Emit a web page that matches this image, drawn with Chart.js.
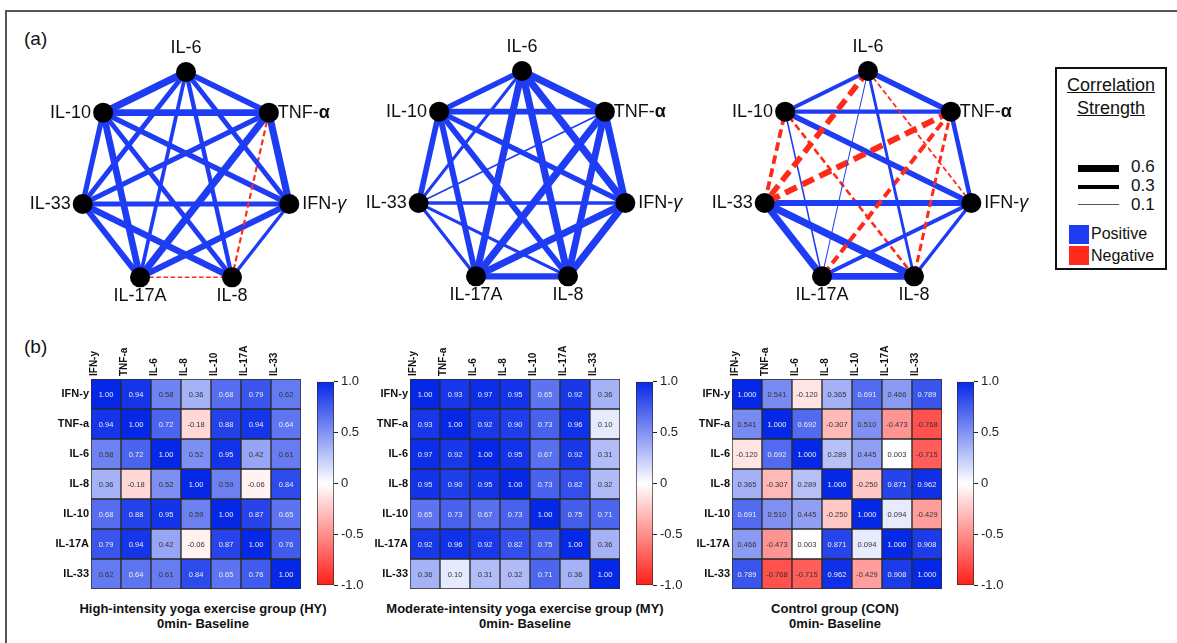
<!DOCTYPE html>
<html>
<head>
<meta charset="utf-8">
<script src="https://cdn.jsdelivr.net/npm/chart.js@4.4.0/dist/chart.umd.min.js"></script>
<style>
  html, body { margin: 0; background: #fff; overflow: hidden; font-family: "Liberation Sans", Arial, sans-serif; }
  #fig { position: relative; width: 1177px; height: 643px; overflow: hidden; }
  #frameTop { position: absolute; left: 5px; top: 10px; width: 1172px; height: 2px; background: #555; }
  #frameLeft { position: absolute; left: 5px; top: 10px; width: 2px; height: 633px; background: #555; }
  canvas { position: absolute; display: block; }
  .txt { position: absolute; color: #111; white-space: nowrap; }
  .panelTag { font-size: 19px; }
  .hmTitle { font-weight: bold; font-size: 13px; line-height: 15px; text-align: center; width: 340px; }
  #legend { position: absolute; left: 1055px; top: 67px; width: 108px; height: 199px; border: 2px solid #111; }
  #legend .u { text-decoration: underline; font-size: 18px; width: 108px; text-align: center; left: 0; }
  #legend .bar { position: absolute; left: 21px; width: 41px; background: #000; }
  #legend .val { font-size: 17px; left: 74px; }
  #legend .sq { position: absolute; left: 12px; width: 20px; height: 19px; }
  #legend .lab { font-size: 16px; left: 34px; }
</style>
</head>
<body>
<div id="fig">
  <div id="frameTop"></div>
  <div id="frameLeft"></div>
  <div class="txt panelTag" style="left:24px;top:28px;">(a)</div>
  <div class="txt panelTag" style="left:24px;top:336px;">(b)</div>

  <canvas id="netHY" width="340" height="300" style="left:16px;top:30px;"></canvas>
  <canvas id="netMY" width="340" height="300" style="left:352px;top:29px;"></canvas>
  <canvas id="netCON" width="340" height="300" style="left:698px;top:29px;"></canvas>

  <div id="legend">
    <div class="txt u" style="top:6px;">Correlation</div>
    <div class="txt u" style="top:29px;">Strength</div>
    <div class="bar" style="top:96px;height:7px;"></div>
    <div class="txt val" style="top:88px;">0.6</div>
    <div class="bar" style="top:116px;height:4px;"></div>
    <div class="txt val" style="top:107px;">0.3</div>
    <div class="bar" style="top:135px;height:1px;background:#555;"></div>
    <div class="txt val" style="top:126px;">0.1</div>
    <div class="sq" style="top:156px;background:#1f3cf5;"></div>
    <div class="txt lab" style="top:156px;">Positive</div>
    <div class="sq" style="top:177px;background:#ff2a1a;"></div>
    <div class="txt lab" style="top:178px;">Negative</div>
  </div>

  <canvas id="hmHY" width="270" height="252" style="left:31px;top:337px;"></canvas>
  <canvas id="cbHY" width="57" height="225" style="left:317px;top:371px;"></canvas>
  <canvas id="hmMY" width="270" height="252" style="left:350px;top:337px;"></canvas>
  <canvas id="cbMY" width="57" height="225" style="left:636px;top:371px;"></canvas>
  <canvas id="hmCON" width="270" height="252" style="left:672px;top:337px;"></canvas>
  <canvas id="cbCON" width="57" height="225" style="left:957px;top:371px;"></canvas>

  <div class="txt hmTitle" style="left:33px;top:601px;">High-intensity yoga exercise group (HY)<br>0min- Baseline</div>
  <div class="txt hmTitle" style="left:355px;top:601px;">Moderate-intensity yoga exercise group (MY)<br>0min- Baseline</div>
  <div class="txt hmTitle" style="left:665px;top:601px;">Control group (CON)<br>0min- Baseline</div>
</div>

<script>
// cytokines in heatmap order (rows top to bottom, columns left to right)
const cytokines = ['IFN-y', 'TNF-a', 'IL-6', 'IL-8', 'IL-10', 'IL-17A', 'IL-33'];

// correlation matrices
const hyValues = [
  [1.00, 0.94, 0.58, 0.36, 0.68, 0.79, 0.62],
  [0.94, 1.00, 0.72, -0.18, 0.88, 0.94, 0.64],
  [0.58, 0.72, 1.00, 0.52, 0.95, 0.42, 0.61],
  [0.36, -0.18, 0.52, 1.00, 0.59, -0.06, 0.84],
  [0.68, 0.88, 0.95, 0.59, 1.00, 0.87, 0.65],
  [0.79, 0.94, 0.42, -0.06, 0.87, 1.00, 0.76],
  [0.62, 0.64, 0.61, 0.84, 0.65, 0.76, 1.00]
];
const myValues = [
  [1.00, 0.93, 0.97, 0.95, 0.65, 0.92, 0.36],
  [0.93, 1.00, 0.92, 0.90, 0.73, 0.96, 0.10],
  [0.97, 0.92, 1.00, 0.95, 0.67, 0.92, 0.31],
  [0.95, 0.90, 0.95, 1.00, 0.73, 0.82, 0.32],
  [0.65, 0.73, 0.67, 0.73, 1.00, 0.75, 0.71],
  [0.92, 0.96, 0.92, 0.82, 0.75, 1.00, 0.36],
  [0.36, 0.10, 0.31, 0.32, 0.71, 0.36, 1.00]
];
const conValues = [
  [1.000, 0.541, -0.120, 0.365, 0.691, 0.466, 0.789],
  [0.541, 1.000, 0.692, -0.307, 0.510, -0.473, -0.768],
  [-0.120, 0.692, 1.000, 0.289, 0.445, 0.003, -0.715],
  [0.365, -0.307, 0.289, 1.000, -0.250, 0.871, 0.962],
  [0.691, 0.510, 0.445, -0.250, 1.000, 0.094, -0.429],
  [0.466, -0.473, 0.003, 0.871, 0.094, 1.000, 0.908],
  [0.789, -0.768, -0.715, 0.962, -0.429, 0.908, 1.000]
];

// network nodes, clockwise from the top, and their index in the matrices
const netLabels = ['IL-6', 'TNF-α', 'IFN-γ', 'IL-8', 'IL-17A', 'IL-33', 'IL-10'];
const netIndex = [2, 1, 0, 3, 5, 6, 4];

// colour bar ticks
const barTicks = [-1, -0.5, 0, 0.5, 1];
const barTickLabels = ['-1.0', '-0.5', '0', '0.5', '1.0'];

const FONT = '"Liberation Sans", Arial, sans-serif';
const NET_BLUE = '#1f3cf5';
const NET_RED = '#ff2a1a';

Chart.defaults.font.family = FONT;
Chart.defaults.animation = false;
Chart.defaults.plugins.legend.display = false;
Chart.defaults.plugins.tooltip.enabled = false;

// blue -> white -> red scale used by the heatmaps
function cellColor(v) {
  const t = Math.min(1, Math.abs(v));
  if (v >= 0) {
    return `rgb(${Math.round(255 - 250 * t)},${Math.round(255 - 215 * t)},${Math.round(255 - 25 * t)})`;
  }
  return `rgb(255,${Math.round(255 - 225 * t)},${Math.round(255 - 230 * t)})`;
}

// ---------- network graphs ----------
const RX = 106, RY = 108;

const nodeLabels = {
  id: 'nodeLabels',
  afterDatasetsDraw(chart) {
    const c = chart.ctx;
    const pts = chart.getDatasetMeta(0).data;
    c.save();
    c.fillStyle = '#111';
    c.textBaseline = 'middle';
    pts.forEach((p, k) => {
      const name = netLabels[k];
      let parts = [{ t: name, f: '' }];
      if (name === 'TNF-α') parts = [{ t: 'TNF-', f: '' }, { t: 'α', f: 'bold ' }];
      if (name === 'IFN-γ') parts = [{ t: 'IFN-', f: '' }, { t: 'γ', f: 'italic ' }];
      let total = 0;
      parts.forEach(pt => { c.font = pt.f + '18px ' + FONT; pt.w = c.measureText(pt.t).width; total += pt.w; });
      let x, y = p.y;
      if (k === 0) { x = p.x - total / 2; y = p.y - 24; }
      else if (k === 1) { x = p.x + 9; }
      else if (k === 2) { x = p.x + 13; }
      else if (k === 3 || k === 4) { x = p.x - total / 2; y = p.y + 19; }
      else { x = p.x - 12 - total; }
      c.textAlign = 'left';
      parts.forEach(pt => { c.font = pt.f + '18px ' + FONT; c.fillText(pt.t, x, y); x += pt.w; });
    });
    c.restore();
  }
};

function makeNetwork(id, values) {
  const pos = netLabels.map((_, k) => ({
    x: Math.sin(k * 2 * Math.PI / 7),
    y: Math.cos(k * 2 * Math.PI / 7)
  }));
  // nodes first so they are drawn on top
  const datasets = [{
    data: pos, pointRadius: 10, pointBackgroundColor: '#000', pointBorderWidth: 0, showLine: false, clip: false
  }];
  for (let i = 0; i < pos.length; i++) {
    for (let j = i + 1; j < pos.length; j++) {
      const r = values[netIndex[i]][netIndex[j]];
      const w = 1 + 6.5 * Math.abs(r);
      datasets.push({
        data: [pos[i], pos[j]],
        showLine: true,
        pointRadius: 0,
        borderColor: r >= 0 ? NET_BLUE : NET_RED,
        borderWidth: w,
        borderDash: r >= 0 ? [] : [w * 1.8 + 2, w * 0.8 + 1.5],
        borderCapStyle: 'butt',
        clip: false
      });
    }
  }
  const canvas = document.getElementById(id);
  new Chart(canvas, {
    type: 'scatter',
    data: { datasets },
    options: {
      responsive: false,
      layout: { padding: 0, autoPadding: false },
      scales: {
        x: { type: 'linear', display: false, min: -170 / RX, max: 170 / RX },
        y: { type: 'linear', display: false, min: -150 / RY, max: 150 / RY }
      }
    },
    plugins: [nodeLabels]
  });
}

makeNetwork('netHY', hyValues);
makeNetwork('netMY', myValues);
makeNetwork('netCON', conValues);

// ---------- heatmaps ----------
const cellText = {
  id: 'cellText',
  afterDatasetsDraw(chart, args, opts) {
    const c = chart.ctx;
    c.save();
    c.font = '7.5px ' + FONT;
    c.textAlign = 'center';
    c.textBaseline = 'middle';
    chart.data.datasets.forEach((ds, d) => {
      const row = cytokines.length - 1 - d;
      chart.getDatasetMeta(d).data.forEach((bar, col) => {
        const v = opts.values[row][col];
        c.fillStyle = v > 0.62 ? '#eeeeee' : '#333';
        c.fillText(v.toFixed(opts.digits), bar.x, (bar.y + bar.base) / 2 + 0.5);
      });
    });
    c.restore();
  }
};

function makeHeatmap(id, values, digits) {
  const n = cytokines.length;
  // one stacked dataset per row, bottom row first
  const datasets = cytokines.map((_, d) => {
    const row = n - 1 - d;
    return {
      data: cytokines.map(() => 1),
      backgroundColor: values[row].map(cellColor),
      borderColor: '#2a2a2a',
      borderWidth: 1,
      borderSkipped: false,
      barPercentage: 1,
      categoryPercentage: 1
    };
  });
  new Chart(document.getElementById(id), {
    type: 'bar',
    data: { labels: cytokines, datasets },
    options: {
      responsive: false,
      layout: { padding: 0 },
      scales: {
        x: {
          stacked: true,
          position: 'top',
          grid: { display: false, drawTicks: false },
          border: { display: false },
          ticks: { minRotation: 90, maxRotation: 90, padding: 3, color: '#111', font: { size: 10, weight: 'bold' } },
          afterFit: s => { s.height = 42; s.paddingLeft = 0; s.paddingRight = 0; }
        },
        y: {
          stacked: true,
          min: 0,
          max: n,
          grid: { display: false, drawTicks: false },
          border: { display: false },
          afterBuildTicks: s => { s.ticks = cytokines.map((_, i) => ({ value: i + 0.5 })); },
          ticks: {
            padding: 2,
            color: '#111',
            font: { size: 11, weight: 'bold' },
            callback: v => cytokines[n - 1 - Math.floor(v)]
          },
          afterFit: s => { s.width = 60; s.paddingTop = 0; s.paddingBottom = 0; }
        }
      },
      plugins: { cellText: { values, digits } }
    },
    plugins: [cellText]
  });
}

function makeColorBar(id) {
  new Chart(document.getElementById(id), {
    type: 'bar',
    data: {
      labels: [''],
      datasets: [{
        data: [[barTicks[0], barTicks[barTicks.length - 1]]],
        backgroundColor: ctx => {
          const chart = ctx.chart;
          const y = chart.scales.y;
          if (!y || !chart.chartArea) return '#fff';
          const g = chart.ctx.createLinearGradient(0, y.getPixelForValue(-1), 0, y.getPixelForValue(1));
          g.addColorStop(0, cellColor(-1));
          g.addColorStop(0.5, cellColor(0));
          g.addColorStop(1, cellColor(1));
          return g;
        },
        borderColor: '#2a2a2a',
        borderWidth: 1,
        borderSkipped: false,
        barPercentage: 1,
        categoryPercentage: 1
      }]
    },
    options: {
      responsive: false,
      layout: { padding: { top: 8, bottom: 8, left: 0, right: 0 } },
      scales: {
        x: { display: false },
        y: {
          position: 'right',
          min: -1,
          max: 1,
          afterBuildTicks: s => { s.ticks = barTicks.map(v => ({ value: v })); },
          grid: { drawOnChartArea: false, drawTicks: true, tickLength: 4, color: '#222' },
          border: { display: false },
          ticks: {
            padding: 3,
            color: '#222',
            font: { size: 13 },
            callback: v => barTickLabels[barTicks.indexOf(v)]
          },
          afterFit: s => { s.width = 40; }
        }
      }
    }
  });
}

makeHeatmap('hmHY', hyValues, 2);
makeHeatmap('hmMY', myValues, 2);
makeHeatmap('hmCON', conValues, 3);
makeColorBar('cbHY');
makeColorBar('cbMY');
makeColorBar('cbCON');
</script>
</body>
</html>
